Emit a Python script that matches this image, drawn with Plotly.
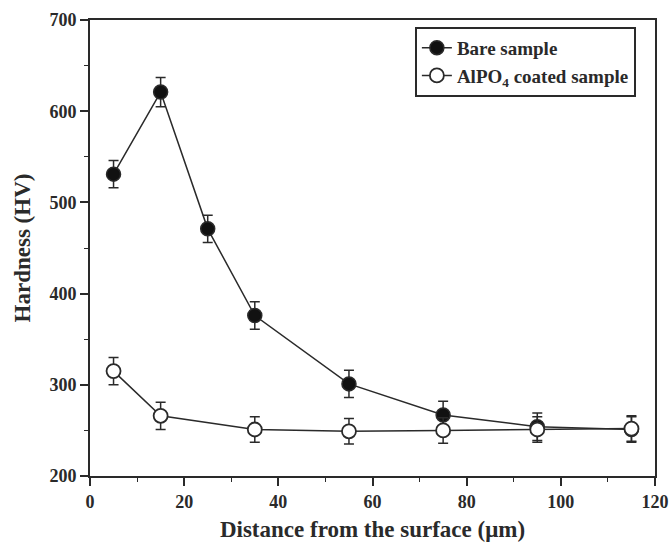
import plotly.graph_objects as go

distance_bare = [5, 15, 25, 35, 55, 75, 95, 115]
hardness_bare = [531, 621, 471, 376, 301, 267, 254, 251]
err_bare = [15, 16, 15, 15, 15, 15, 15, 14]

distance_coated = [5, 15, 35, 55, 75, 95, 115]
hardness_coated = [315, 266, 251, 249, 250, 251, 252]
err_coated = [15, 15, 14, 14, 14, 14, 14]

x_ticks = [0, 20, 40, 60, 80, 100, 120]
y_ticks = [200, 300, 400, 500, 600, 700]

FONT = "Liberation Serif"
INK = "#2a2a2a"

fig = go.Figure()
fig.add_trace(go.Scatter(
    x=distance_bare, y=hardness_bare, mode="lines+markers",
    name="Bare sample",
    line=dict(color=INK, width=1.5),
    marker=dict(symbol="circle", size=14, color="#111111", line=dict(color=INK, width=1.5)),
    error_y=dict(type="data", array=err_bare, color=INK, thickness=1.5, width=5),
))
fig.add_trace(go.Scatter(
    x=distance_coated, y=hardness_coated, mode="lines+markers",
    name="AlPO<sub>4</sub> coated sample",
    line=dict(color=INK, width=1.5),
    marker=dict(symbol="circle", size=14, color="white", line=dict(color=INK, width=1.8)),
    error_y=dict(type="data", array=err_coated, color=INK, thickness=1.5, width=5),
))

axis_common = dict(
    showline=True, linecolor=INK, linewidth=2, mirror=True,
    ticks="outside", ticklen=8, tickwidth=1.5, tickcolor=INK,
    showgrid=False, zeroline=False, automargin=False,
    tickfont=dict(family=FONT, size=18, color=INK, weight="bold"),
)

fig.update_layout(
    width=671, height=543,
    margin=dict(l=90, r=16, t=20, b=67),
    paper_bgcolor="white", plot_bgcolor="white",
    font=dict(family=FONT, color=INK, weight="bold"),
    xaxis=dict(
        range=[0, 120], tickvals=x_ticks, ticktext=[str(v) for v in x_ticks],
        minor=dict(dtick=10, tick0=0, ticks="outside", ticklen=4, tickcolor=INK, tickwidth=1.2),
        title=dict(text="Distance from the surface (μm)", font=dict(family=FONT, size=23, color=INK, weight="bold"), standoff=10),
        **axis_common,
    ),
    yaxis=dict(
        range=[200, 700], tickvals=y_ticks, ticktext=[str(v) for v in y_ticks],
        minor=dict(dtick=50, tick0=200, ticks="outside", ticklen=4, tickcolor=INK, tickwidth=1.2),
        title=dict(text="Hardness (HV)", font=dict(family=FONT, size=23, color=INK, weight="bold"), standoff=12),
        **axis_common,
    ),
    legend=dict(
        x=0.575, y=0.985, xanchor="left", yanchor="top",
        bordercolor=INK, borderwidth=2, bgcolor="white",
        font=dict(family=FONT, size=19, color=INK, weight="bold"),
        itemwidth=30, tracegroupgap=0,
    ),
    showlegend=True,
)

fig.write_html(
    "out.html",
    config={"displayModeBar": False},
    post_script="document.body.style.margin='0';document.body.style.overflow='hidden';",
)
